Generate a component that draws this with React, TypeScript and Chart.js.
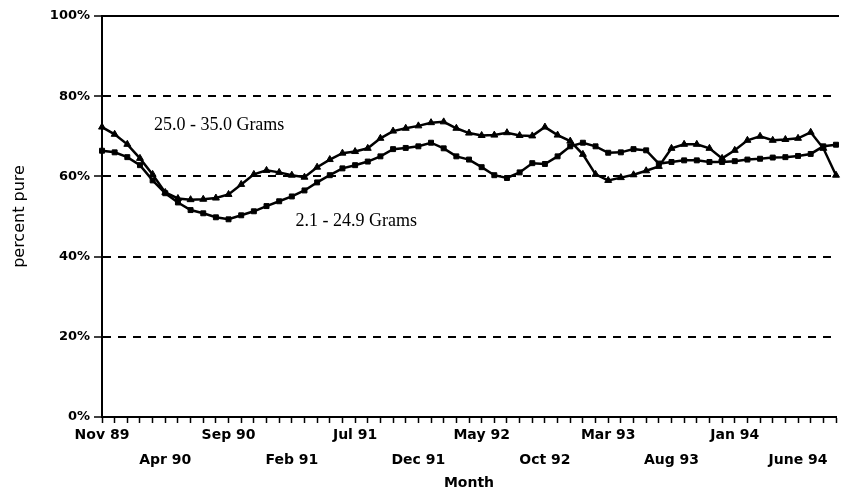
import React, { useEffect, useRef } from 'react';
import { Chart, registerables } from 'chart.js';

Chart.register(...registerables);

const months = [
  'Nov 89', 'Dec 89', 'Jan 90', 'Feb 90', 'Mar 90', 'Apr 90', 'May 90', 'Jun 90', 'Jul 90', 'Aug 90',
  'Sep 90', 'Oct 90', 'Nov 90', 'Dec 90', 'Jan 91', 'Feb 91', 'Mar 91', 'Apr 91', 'May 91', 'Jun 91',
  'Jul 91', 'Aug 91', 'Sep 91', 'Oct 91', 'Nov 91', 'Dec 91', 'Jan 92', 'Feb 92', 'Mar 92', 'Apr 92',
  'May 92', 'Jun 92', 'Jul 92', 'Aug 92', 'Sep 92', 'Oct 92', 'Nov 92', 'Dec 92', 'Jan 93', 'Feb 93',
  'Mar 93', 'Apr 93', 'May 93', 'Jun 93', 'Jul 93', 'Aug 93', 'Sep 93', 'Oct 93', 'Nov 93', 'Dec 93',
  'Jan 94', 'Feb 94', 'Mar 94', 'Apr 94', 'May 94', 'June 94', 'July 94', 'Aug 94', 'Sep 94',
];

// 25.0 - 35.0 Grams (triangles)
const grams25to35 = [
  72.3, 70.5, 68, 64.5, 60.5, 56, 54.5, 54.2, 54.3, 54.6,
  55.5, 58, 60.5, 61.5, 61, 60.3, 59.8, 62.3, 64.2, 65.8,
  66.2, 67, 69.5, 71.3, 72, 72.6, 73.4, 73.6, 72, 70.8,
  70.2, 70.3, 70.9, 70.2, 70.1, 72.3, 70.3, 68.8, 65.5, 60.5,
  59, 59.7, 60.4, 61.4, 62.5, 67, 68, 68, 67, 64.5,
  66.5, 69, 70, 69, 69.2, 69.5, 71, 67, 60.3,
];

// 2.1 - 24.9 Grams (squares)
const grams2to25 = [
  66.4, 66, 64.8, 62.8, 59, 55.8, 53.5, 51.6, 50.8, 49.8,
  49.3, 50.3, 51.3, 52.6, 53.8, 55, 56.5, 58.5, 60.3, 62,
  62.8, 63.7, 65, 66.8, 67.1, 67.5, 68.4, 67, 65, 64.2,
  62.3, 60.3, 59.6, 61, 63.3, 63.1, 65, 67.5, 68.4, 67.5,
  65.9, 66, 66.8, 66.5, 63.2, 63.6, 64, 64, 63.6, 63.6,
  63.8, 64.2, 64.4, 64.7, 64.8, 65.1, 65.6, 67.5, 67.9,
];

const yTickValues = [0, 20, 40, 60, 80, 100];
const seriesNames = ['25.0 - 35.0 Grams', '2.1 - 24.9 Grams'];
// where each series name is written, in data units (category index, percent)
const nameAnchors = [
  { index: 4.1, value: 72.8 },
  { index: 15.3, value: 48.7 },
];

export default function App() {
  const canvasRef = useRef<HTMLCanvasElement>(null);

  useEffect(() => {
    document.body.style.margin = '0';
    const canvas = canvasRef.current;
    if (!canvas) return;

    const overlay = {
      id: 'overlay',
      afterDatasetsDraw(chart: any) {
        const { ctx, chartArea, scales } = chart;
        const xs = scales.x;
        const ys = scales.y;
        ctx.save();
        ctx.strokeStyle = '#000';
        ctx.lineWidth = 2;
        const yTop = ys.getPixelForValue(100);
        ctx.beginPath();
        ctx.moveTo(chartArea.left, yTop);
        ctx.lineTo(chartArea.right + 3, yTop);
        ctx.stroke();
        ctx.fillStyle = '#000';
        ctx.font = '18px "Liberation Serif"';
        ctx.textAlign = 'left';
        ctx.textBaseline = 'middle';
        seriesNames.forEach((t, k) => {
          ctx.fillText(
            t,
            xs.getPixelForValue(nameAnchors[k].index),
            ys.getPixelForValue(nameAnchors[k].value)
          );
        });
        ctx.restore();
      },
    };

    const chart = new Chart(canvas, {
      type: 'line',
      data: {
        labels: months,
        datasets: [
          {
            label: seriesNames[0],
            data: grams25to35,
            borderColor: '#000',
            backgroundColor: '#000',
            borderWidth: 2.5,
            pointStyle: 'triangle',
            pointRadius: 4,
            pointBorderWidth: 1,
            tension: 0,
          },
          {
            label: seriesNames[1],
            data: grams2to25,
            borderColor: '#000',
            backgroundColor: '#000',
            borderWidth: 2.5,
            pointStyle: 'rect',
            pointRadius: 3.5,
            pointBorderWidth: 1,
            tension: 0,
          },
        ],
      },
      options: {
        responsive: false,
        animation: false,
        devicePixelRatio: 1,
        layout: { padding: { top: 16, right: 3, left: 0, bottom: 0 } },
        plugins: {
          legend: { display: false },
          tooltip: { enabled: false },
        },
        scales: {
          x: {
            type: 'category',
            offset: false,
            afterFit: (scale: any) => {
              scale.height = 75;
            },
            grid: {
              display: true,
              drawOnChartArea: false,
              drawTicks: true,
              tickLength: 6,
              tickColor: '#000',
              tickWidth: 1.5,
              color: '#000',
            },
            border: { display: true, color: '#000', width: 2 },
            ticks: {
              autoSkip: false,
              maxRotation: 0,
              minRotation: 0,
              padding: 0,
              color: '#000',
              font: { family: '"DejaVu Sans"', size: 14, weight: 'bold', lineHeight: 1.8 },
              callback: (_v: any, index: number) => {
                if (index % 5 !== 0) return '';
                const lab = months[index];
                return (index / 5) % 2 === 1 ? ['', lab] : lab;
              },
            },
            title: {
              display: true,
              text: 'Month',
              color: '#000',
              font: { family: '"DejaVu Sans"', size: 14, weight: 'bold' },
              padding: { top: 5, bottom: 0 },
            },
          },
          y: {
            min: 0,
            max: 100,
            afterFit: (scale: any) => {
              scale.width = 102;
            },
            afterBuildTicks: (scale: any) => {
              scale.ticks = yTickValues.map((v) => ({ value: v }));
            },
            grid: {
              color: (c: any) =>
                c.tick && (c.tick.value === 0 || c.tick.value === 100) ? 'rgba(0,0,0,0)' : '#000',
              lineWidth: 2,
              drawTicks: true,
              tickLength: 8,
              tickColor: '#000',
              tickWidth: 1.5,
            },
            border: { display: true, color: '#000', width: 2, dash: [8, 7] },
            ticks: {
              color: '#000',
              padding: 4,
              font: { family: '"DejaVu Sans"', size: 13, weight: 'bold' },
              callback: (v: any) => v + '%',
            },
            title: {
              display: true,
              text: 'percent pure',
              color: '#000',
              font: { family: '"DejaVu Sans"', size: 16 },
              padding: { top: 10, bottom: 0 },
            },
          },
        },
      },
      plugins: [overlay],
    });

    return () => chart.destroy();
  }, []);

  return (
    <div style={{ width: 841, height: 492 }}>
      <canvas ref={canvasRef} width={841} height={492} />
    </div>
  );
}
